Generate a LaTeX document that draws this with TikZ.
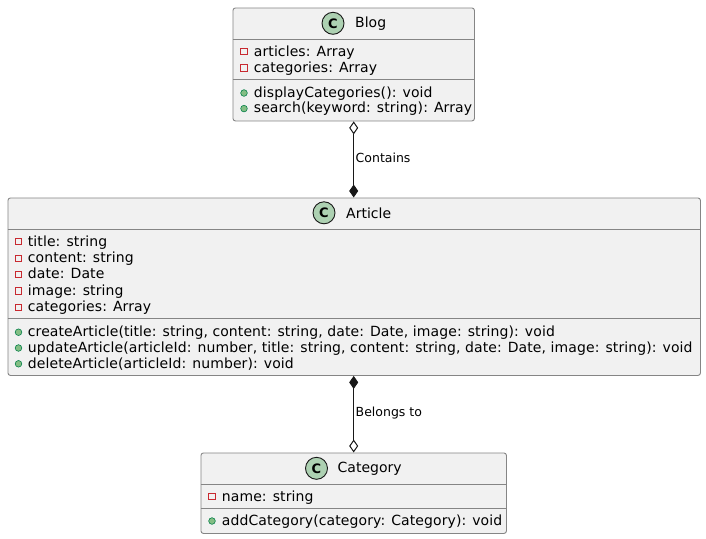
\documentclass[tikz,border=0pt]{standalone}
\usepackage{fontspec}
\setmainfont{DejaVu Sans}
\usetikzlibrary{arrows.meta}
\definecolor{boxfill}{HTML}{F1F1F1}
\definecolor{boxline}{HTML}{858585}
\definecolor{ink}{HTML}{181818}
\definecolor{cfill}{HTML}{ADD1B2}
\definecolor{privred}{HTML}{C82930}
\definecolor{pubfill}{HTML}{84BE84}
\definecolor{publine}{HTML}{038048}
\tikzset{
  classbox/.style={draw=boxline, fill=boxfill, line width=0.9pt, rounded corners=2.5pt, rectangle, inner sep=0pt, anchor=north west},
  sepline/.style={draw=boxline, line width=0.9pt},
  privicon/.style={draw=privred, fill=none, rectangle, minimum size=6.2pt, inner sep=0pt, line width=0.9pt},
  pubicon/.style={draw=publine, fill=pubfill, circle, minimum size=6.6pt, inner sep=0pt, line width=0.6pt},
  member/.style={anchor=base west, inner sep=0pt, font=\fontsize{14}{16}\selectfont\addfontfeatures{LetterSpace=0.7}, text=black},
  cicon/.style={circle, draw=ink, fill=cfill, minimum size=22pt, inner sep=0pt, line width=0.9pt, font=\fontsize{13}{13}\selectfont\bfseries},
  cname/.style={anchor=west, inner sep=0pt, font=\fontsize{14}{16}\selectfont},
  conn/.style={draw=ink, line width=1pt},
  lbl/.style={anchor=west, inner sep=0pt, font=\fontsize{12.5}{14}\selectfont},
  hollowd/.tip={Diamond[open, length=13pt, width=9pt, fill=white]},
  filledd/.tip={Diamond[length=13pt, width=9pt, fill=ink]}
}
\begin{document}
\begin{tikzpicture}[x=1pt, y=-1pt]
\useasboundingbox (0,0) rectangle (706,538);
% ---------- Blog ----------
\node[classbox, minimum width=241.5pt, minimum height=113pt] (blog) at (232.5,7.5) {};
\node[cicon] (blogc) at (333,23.3) {C};
\node[cname] (blogn) at (355,23.3) {Blog};
\draw[sepline] (232.5,39.5) -- (474,39.5);
\draw[sepline] (232.5,79.5) -- (474,79.5);
\node[privicon] (b1i) at (244,51.7) {};
\node[member] (b1) at (253.7,56) {articles: Array};
\node[privicon] (b2i) at (244,67.9) {};
\node[member] (b2) at (253.7,72.2) {categories: Array};
\node[pubicon] (b3i) at (244,93) {};
\node[member] (b3) at (253.7,97.3) {displayCategories(): void};
\node[pubicon] (b4i) at (244,108.6) {};
\node[member] (b4) at (253.7,112.9) {search(keyword: string): Array};
% ---------- Article ----------
\node[classbox, minimum width=692.5pt, minimum height=177.5pt] (article) at (7.5,197.5) {};
\node[cicon] (artc) at (324,212.8) {C};
\node[cname] (artn) at (346,212.8) {Article};
\draw[sepline] (7.5,229.5) -- (700,229.5);
\draw[sepline] (7.5,318.7) -- (700,318.7);
\node[privicon] (a1i) at (18.5,241.7) {};
\node[member] (a1) at (27.7,246) {title: string};
\node[privicon] (a2i) at (18.5,258.1) {};
\node[member] (a2) at (27.7,262.4) {content: string};
\node[privicon] (a3i) at (18.5,274.6) {};
\node[member] (a3) at (27.7,278.9) {date: Date};
\node[privicon] (a4i) at (18.5,291) {};
\node[member] (a4) at (27.7,295.3) {image: string};
\node[privicon] (a5i) at (18.5,307.4) {};
\node[member] (a5) at (27.7,311.7) {categories: Array};
\node[pubicon] (a6i) at (18.5,332.2) {};
\node[member] (a6) at (27.7,336.5) {createArticle(title: string, content: string, date: Date, image: string): void};
\node[pubicon] (a7i) at (18.5,348) {};
\node[member] (a7) at (27.7,352.3) {updateArticle(articleId: number, title: string, content: string, date: Date, image: string): void};
\node[pubicon] (a8i) at (18.5,363.8) {};
\node[member] (a8) at (27.7,368.1) {deleteArticle(articleId: number): void};
% ---------- Category ----------
\node[classbox, minimum width=305.5pt, minimum height=80.5pt] (category) at (200.5,452.5) {};
\node[cicon] (catc) at (316.5,468.3) {C};
\node[cname] (catn) at (337.5,468.3) {Category};
\draw[sepline] (200.5,484.5) -- (506,484.5);
\draw[sepline] (200.5,508.5) -- (506,508.5);
\node[privicon] (c1i) at (212,496.7) {};
\node[member] (c1) at (221.7,501) {name: string};
\node[pubicon] (c2i) at (212,521) {};
\node[member] (c2) at (221.7,525.3) {addCategory(category: Category): void};
% ---------- connectors ----------
\draw[conn, {hollowd}-{filledd}] (blog.south) -- (blog.south |- article.north);
\node[lbl] (lcont) at (355.5,158.3) {Contains};
\draw[conn, {filledd}-{hollowd}] (blog.south |- article.south) -- (blog.south |- category.north);
\node[lbl] (lbel) at (355.5,413.3) {Belongs to};
\end{tikzpicture}
\end{document}
